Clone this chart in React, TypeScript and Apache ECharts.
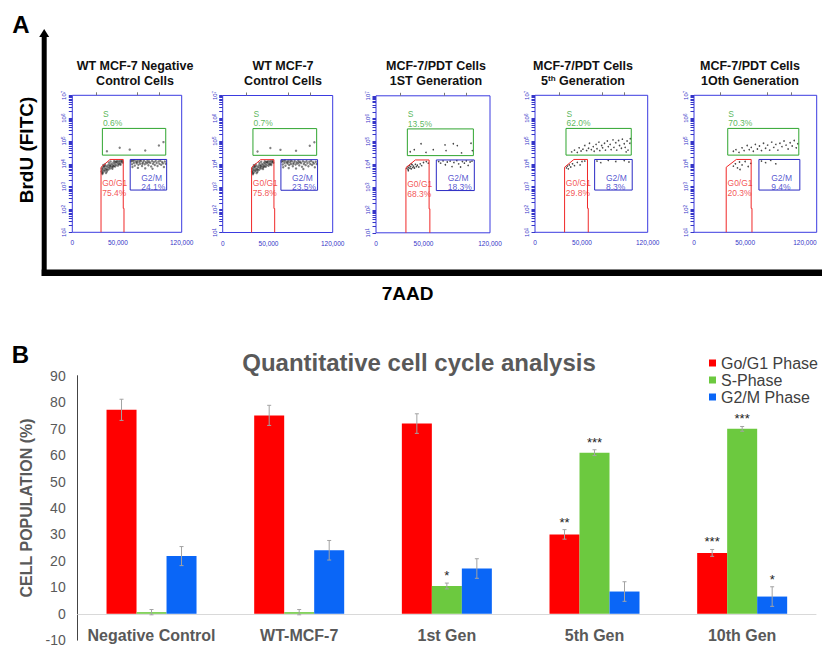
import React, { useEffect, useRef } from 'react';
import * as echarts from 'echarts';

const FONT = '"Liberation Sans", Arial, Helvetica, sans-serif';

// ---------------- Panel B data ----------------
const categories = ['Negative Control', 'WT-MCF-7', '1st Gen', '5th Gen', '10th Gen'];
const seriesNames = ['Go/G1 Phase', 'S-Phase', 'G2/M Phase'];
const g0g1Values = [77.1, 75.0, 71.9, 30.0, 23.0];
const g0g1Errors = [4.0, 3.8, 3.7, 1.8, 1.3];
const sValues = [0.6, 0.6, 10.5, 60.9, 69.9];
const sErrors = [1.0, 1.0, 1.1, 1.1, 0.9];
const g2mValues = [21.8, 24.0, 17.1, 8.4, 6.5];
const g2mErrors = [3.6, 3.7, 3.7, 3.7, 3.7];
const g0g1Stars = ['', '', '', '**', '***'];
const sStars = ['', '', '*', '***', '***'];
const g2mStars = ['', '', '', '', '*'];
const yTickMin = -10;
const yTickMax = 90;
const yTickStep = 10;

// ---------------- Panel A data ----------------
const flowTitles = [
  ['WT MCF-7 Negative', 'Control Cells'],
  ['WT MCF-7', 'Control Cells'],
  ['MCF-7/PDT Cells', '1ST Generation'],
  ['MCF-7/PDT Cells', '5th Generation'],
  ['MCF-7/PDT Cells', '1Oth Generation'],
];
const sPercents = ['0.6%', '0.7%', '13.5%', '62.0%', '70.3%'];
const g0g1Percents = ['75.4%', '75.8%', '68.3%', '29.8%', '20.3%'];
const g2mPercents = ['24.1%', '23.5%', '18.3%', '8.3%', '9.4%'];
const xTickValues = [0, 50, 120]; // thousands of 7AAD units
const topTickValues = [26, 71.5, 95];
const decadeLabels = [1, 2, 3, 4, 5, 6, 7]; // log10 of BrdU
const sGate = [[33, 4.38], [102.5, 4.38], [102.5, 5.55], [33, 5.55], [33, 4.38]];
const g0g1Gate = [[31.5, 1], [31.5, 3.85], [41.4, 4.19], [55.9, 4.19], [55.9, 2.05], [56.7, 2.05], [56.7, 1]];
const g2mGate = [[63.5, 2.85], [103.5, 2.85], [103.5, 4.19], [63.5, 4.19], [63.5, 2.85]];
const sLabelPos = [[33, 6.2], [33, 5.78]];
const g0g1LabelPos = [[32.3, 3.15], [32.3, 2.72]];
const g2mLabelPos = [[75, 3.4], [75, 3.0]];

const dotsNegCtrl = [
  [32, 3.66], [32.4, 3.78], [32.8, 3.7], [33.3, 3.84], [33.8, 3.62], [34.2, 3.75], [34.7, 3.88], [35.2, 3.68],
  [35.8, 3.8], [36.3, 3.72], [36.9, 3.9], [37.5, 3.78], [38, 3.66], [38.6, 3.86], [39.2, 3.94], [39.8, 3.75],
  [40.4, 3.84], [41, 3.97], [41.7, 3.8], [42.3, 3.9], [43, 4.0], [43.7, 3.85], [44.4, 3.95], [45.1, 4.05],
  [45.8, 3.9], [46.5, 4.0], [47.3, 4.08], [48, 3.95], [48.8, 4.05], [49.6, 4.12], [50.4, 4.0], [51.2, 4.08],
  [52, 4.14], [52.8, 4.02], [53.6, 4.1], [54.4, 4.15], [55.2, 4.05], [34, 3.95], [37, 3.6], [40, 4.05],
  [44, 3.78], [47, 3.88], [50, 3.92], [53, 3.96], [33, 3.55], [36, 3.98], [42, 4.1], [46, 4.12],
  [32.6, 3.6], [35, 3.9], [38.2, 3.74], [41.3, 3.9], [44.8, 3.88], [48.3, 4.1], [51.6, 3.98], [54.8, 4.1],
  [64.5, 4.1], [65.5, 3.98], [66.5, 4.12], [67.5, 4.04], [68.5, 3.92], [69.5, 4.1], [70.5, 4.02], [71.5, 4.14],
  [72.5, 3.96], [73.5, 4.08], [74.5, 4.0], [75.5, 4.12], [76.5, 3.9], [77.5, 4.06], [78.5, 4.13], [79.5, 3.98],
  [80.5, 4.08], [81.5, 4.02], [82.5, 4.14], [83.5, 3.94], [84.5, 4.1], [85.5, 4.04], [86.5, 3.88], [87.5, 4.12],
  [88.5, 4.0], [89.5, 4.08], [90.5, 3.95], [91.5, 4.12], [92.5, 4.03], [93.5, 3.9], [94.5, 4.1], [95.5, 4.0],
  [96.5, 4.13], [97.5, 3.96], [98.5, 4.08], [99.5, 4.02], [100.5, 3.86], [101.5, 4.1], [102.5, 4.0], [66, 3.86],
  [72, 3.82], [80, 3.8], [88, 3.78], [65, 4.15], [68, 4.16], [71, 4.07], [74, 4.15], [77, 4.0], [83, 4.06],
  [38, 4.55], [52, 4.7], [63, 4.62], [80, 4.58], [95, 4.8], [100, 4.95],
];
const dotsWT = dotsNegCtrl;
const dotsGen1 = [
  [32.5, 3.82], [33.2, 3.9], [33.8, 3.78], [34.5, 3.86], [35.2, 3.95], [35.8, 3.82], [36.5, 3.9], [37.2, 3.8],
  [38, 3.98], [38.8, 3.86], [39.5, 3.92], [40.5, 3.84], [41.5, 4.0], [42.5, 3.9], [43.5, 3.96], [45, 3.88],
  [46.5, 4.02], [48, 3.94], [50, 4.08], [53, 4.12], [55, 4.05], [34, 3.72], [37, 4.02],
  [66, 4.12], [68, 4.05], [70.5, 4.15], [73, 3.98], [75, 4.1], [78, 4.14], [80, 3.9], [82, 4.08], [85, 4.16],
  [87, 4.02], [89, 3.88], [91, 4.12], [93, 4.05], [95, 4.15], [97, 3.95], [99, 4.1], [101, 4.14],
  [40.3, 4.64], [47.4, 4.9], [52.6, 4.52], [60.3, 4.64], [72.6, 4.85], [73.7, 4.6], [81.4, 4.9], [85.6, 4.82],
  [100, 4.92], [101.4, 4.6], [36, 4.55], [90, 4.5],
];
const dotsGen5 = [
  [39, 4.52], [42, 4.6], [45, 4.5], [47, 4.7], [49, 4.56], [51, 4.64], [53, 4.8], [55, 4.58], [57, 4.68], [58, 4.9],
  [60, 4.62], [62, 4.75], [63, 4.55], [65, 4.85], [66, 4.66], [68, 4.95], [69, 4.58], [71, 4.8], [72, 4.7], [74, 4.9],
  [75, 4.6], [77, 5.0], [78, 4.75], [80, 4.85], [81, 4.62], [83, 5.05], [84, 4.72], [86, 4.92], [87, 4.6], [89, 5.02],
  [90, 4.8], [92, 4.68], [93, 5.08], [95, 4.88], [96, 4.72], [98, 5.0], [99, 4.6], [101, 4.9], [101.5, 5.1], [97, 4.52],
  [33.5, 3.82], [34.5, 3.9], [35.5, 3.78], [36.5, 3.95], [38, 3.86], [40, 4.0], [42, 3.92], [45, 4.06], [48, 3.95],
  [50, 4.1], [53, 4.12],
  [66, 4.12], [70, 4.05], [78, 4.15], [86, 4.1], [95, 4.14], [100, 4.08],
];
const dotsGen10 = [
  [38.5, 4.55], [41, 4.62], [44, 4.5], [47, 4.7], [49, 4.58], [52, 4.8], [54, 4.62], [56, 4.72], [58, 4.55], [60, 4.85],
  [62, 4.65], [64, 4.78], [66, 4.58], [68, 4.9], [70, 4.68], [72, 4.82], [74, 4.6], [76, 4.95], [78, 4.72], [80, 4.85],
  [82, 4.6], [84, 4.9], [86, 4.75], [88, 5.0], [90, 4.82], [92, 4.65], [94, 4.92], [96, 4.78], [98, 5.02], [100, 4.7],
  [101.5, 4.88],
  [38.5, 3.9], [40.5, 4.0], [42.5, 3.82], [44.5, 4.08], [47, 3.95], [50, 4.1], [53, 3.88], [55.5, 4.02], [45, 3.75],
  [66, 4.12], [70, 4.05], [75, 4.15], [80, 4.0],
];
const flowDots = [dotsNegCtrl, dotsWT, dotsGen1, dotsGen5, dotsGen10];

// ---------------- layout / style ----------------
const flowFrames = [
  { left: 72.3, top: 95.3, width: 109.4, height: 137, titleX: 135, dot: 2.4, alpha: 0.55 },
  { left: 222.7, top: 95.5, width: 110, height: 137, titleX: 283, dot: 2.4, alpha: 0.55 },
  { left: 376, top: 95.8, width: 114, height: 137, titleX: 436, dot: 1.6, alpha: 0.8 },
  { left: 535, top: 95.3, width: 112.7, height: 137, titleX: 583, dot: 1.6, alpha: 0.8 },
  { left: 694, top: 95.3, width: 122.7, height: 137, titleX: 750, dot: 1.6, alpha: 0.8 },
];
const FRAME_BLUE = '#3b3be0';
const AXIS_BLUE = '#3535c8';
const GATE_GREEN = '#2fa52f';
const GATE_RED = '#f02828';
const GATE_BLUE = '#2a2ac4';
const BAR_W = 30;
const ERR = '#a3a3a3';

const logTicks: number[] = [];
for (let n = 1; n < 7; n++) for (let k = 1; k < 10; k++) logTicks.push(n + Math.log10(k));
logTicks.push(7);

const fmtThousands = (v: number) => (v * 1000).toLocaleString('en-US');

function buildOption() {
  const grids: any[] = [];
  const xAxes: any[] = [];
  const yAxes: any[] = [];
  const series: any[] = [];
  const graphics: any[] = [];

  flowFrames.forEach((f, i) => {
    const last = i === flowFrames.length - 1;
    grids.push({
      left: f.left, top: f.top, width: f.width, height: f.height, outerBoundsMode: 'none', containLabel: false,
      show: true, borderColor: FRAME_BLUE, borderWidth: 1, backgroundColor: 'rgba(0,0,0,0)',
    });
    xAxes.push({
      type: 'value', gridIndex: i, min: 0, max: 120, position: 'bottom',
      axisLine: { show: false }, axisTick: { show: false }, splitLine: { show: false },
      axisLabel: {
        customValues: xTickValues, formatter: fmtThousands, fontSize: 6.5, color: AXIS_BLUE, margin: 7, fontFamily: FONT,
        alignMaxLabel: last ? 'right' : undefined,
      },
    });
    xAxes.push({
      type: 'value', gridIndex: i, min: 0, max: 120, position: 'top',
      axisLine: { show: false }, axisLabel: { show: false }, splitLine: { show: false },
      axisTick: { show: true, customValues: topTickValues, length: 3, lineStyle: { color: '#777', width: 1 } },
    });
    yAxes.push({
      type: 'value', gridIndex: i, min: 1, max: 7,
      axisLine: { show: false }, splitLine: { show: false },
      axisTick: { show: true, customValues: logTicks, length: 3.5, lineStyle: { color: AXIS_BLUE, width: 1 } },
      axisLabel: {
        customValues: decadeLabels, rotate: 90, margin: 5,
        formatter: (v: number) => `{a|10}{b|${v}}`,
        rich: {
          a: { fontSize: 6, color: AXIS_BLUE, fontFamily: FONT },
          b: { fontSize: 4.5, color: AXIS_BLUE, fontFamily: FONT, verticalAlign: 'top' },
        },
      },
    });
    const xi = 2 * i;
    series.push({
      type: 'scatter', xAxisIndex: xi, yAxisIndex: i, data: flowDots[i], symbolSize: f.dot,
      itemStyle: { color: '#1a1a1a', opacity: f.alpha }, silent: true, z: 2,
    });
    const gateLine = (data: number[][], color: string) => ({
      type: 'line', xAxisIndex: xi, yAxisIndex: i, data, symbol: 'none', silent: true, z: 3,
      lineStyle: { color, width: 1 },
    });
    series.push(gateLine(sGate, GATE_GREEN));
    series.push(gateLine(g0g1Gate, GATE_RED));
    series.push(gateLine(g2mGate, GATE_BLUE));
    const lab = (pos: number[], text: string, color: string) => ({
      value: pos, label: { formatter: text, color },
    });
    series.push({
      type: 'scatter', xAxisIndex: xi, yAxisIndex: i, symbolSize: 1, silent: true, z: 4,
      itemStyle: { color: 'rgba(0,0,0,0)' },
      label: { show: true, position: 'right', distance: 0, fontSize: 8.5, lineHeight: 8.5, fontFamily: FONT },
      data: [
        lab(sLabelPos[0], 'S', GATE_GREEN),
        lab(sLabelPos[1], sPercents[i], GATE_GREEN),
        lab(g0g1LabelPos[0], 'G0/G1', GATE_RED),
        lab(g0g1LabelPos[1], g0g1Percents[i], GATE_RED),
        lab(g2mLabelPos[0], 'G2/M', GATE_BLUE),
        lab(g2mLabelPos[1], g2mPercents[i], GATE_BLUE),
      ],
    });

    // plot titles
    const [l1, l2] = flowTitles[i];
    const tStyle = { fontSize: 12.5, fontWeight: 'bold', fill: '#111', fontFamily: FONT, align: 'center', verticalAlign: 'middle', textAlign: 'center', textVerticalAlign: 'middle' };
    graphics.push({ type: 'text', x: f.titleX, y: 66, style: { ...tStyle, text: l1 } });
    const m = l2.match(/^(\d+)(th)( .*)$/);
    if (m) {
      graphics.push({
        type: 'text', x: f.titleX, y: 81,
        style: {
          ...tStyle, text: `{n|${m[1]}}{s|${m[2]}}{n|${m[3]}}`,
          rich: {
            n: { fontSize: 12.5, fontWeight: 'bold', fill: '#111', fontFamily: FONT },
            s: { fontSize: 8, fontWeight: 'bold', fill: '#111', fontFamily: FONT, verticalAlign: 'top' },
          },
        },
      });
    } else {
      graphics.push({ type: 'text', x: f.titleX, y: 81, style: { ...tStyle, text: l2 } });
    }
  });

  // ---------- Panel B ----------
  const gi = 5;
  grids.push({ left: 77.7, top: 375.7, width: 738.3, height: 264.5, outerBoundsMode: 'none', containLabel: false });
  xAxes.push({
    type: 'category', gridIndex: gi, data: categories,
    axisLine: { onZero: true, lineStyle: { color: '#d9d9d9', width: 1 } },
    axisTick: { show: false },
    axisLabel: { interval: 0, fontSize: 16, fontWeight: 'bold', color: '#595959', margin: -13.2, fontFamily: FONT },
  });
  yAxes.push({
    type: 'value', gridIndex: gi, min: yTickMin, max: yTickMax, interval: yTickStep,
    axisLine: { show: true, lineStyle: { color: '#444', width: 1 } },
    axisTick: { show: false }, splitLine: { show: false },
    axisLabel: { fontSize: 14, color: '#595959', margin: 12, fontFamily: FONT },
    name: 'CELL POPULATION (%)', nameLocation: 'middle', nameGap: 41,
    nameTextStyle: { fontSize: 16, fontWeight: 'bold', color: '#595959', fontFamily: FONT },
  });
  const bx = 10;
  const colors = ['#ff0000', '#6cc93f', '#0a66f7'];
  const vals = [g0g1Values, sValues, g2mValues];
  const errs = [g0g1Errors, sErrors, g2mErrors];
  const stars = [g0g1Stars, sStars, g2mStars];
  vals.forEach((v, k) => {
    series.push({
      name: seriesNames[k], type: 'bar', xAxisIndex: bx, yAxisIndex: gi, data: v,
      barWidth: BAR_W, barGap: '0%', itemStyle: { color: colors[k] }, z: 2,
    });
  });
  vals.forEach((v, k) => {
    const off = k - 1;
    series.push({
      name: 'err' + k, type: 'custom', xAxisIndex: bx, yAxisIndex: gi, z: 10, silent: true,
      data: v.map((val, i) => [i, val, errs[k][i]]),
      encode: { x: 0, y: 1 },
      renderItem: (params: any, api: any) => {
        const idx = api.value(0);
        const val = api.value(1);
        const e = api.value(2);
        const c = api.coord([idx, val]);
        const x = c[0] + off * BAR_W;
        const yT = api.coord([idx, val + e])[1];
        const yB = api.coord([idx, val - e])[1];
        const cap = 2;
        const ls = { stroke: ERR, lineWidth: 1 };
        const children: any[] = [
          { type: 'line', shape: { x1: x, y1: yT, x2: x, y2: yB }, style: ls },
          { type: 'line', shape: { x1: x - cap, y1: yT, x2: x + cap, y2: yT }, style: ls },
          { type: 'line', shape: { x1: x - cap, y1: yB, x2: x + cap, y2: yB }, style: ls },
        ];
        const st = stars[k][idx];
        if (st) {
          children.push({
            type: 'text',
            style: { text: st, x, y: yT - 1, align: 'center', verticalAlign: 'bottom', textAlign: 'center', textVerticalAlign: 'bottom', fontSize: 13, fill: '#222', fontFamily: FONT },
          });
        }
        return { type: 'group', children };
      },
    });
  });

  // ---------- static decorations ----------
  const bold = (size: number) => ({ fontSize: size, fontWeight: 'bold', fontFamily: FONT, align: 'center', verticalAlign: 'middle', textAlign: 'center', textVerticalAlign: 'middle' });
  graphics.push(
    { type: 'rect', shape: { x: 41.7, y: 34, width: 5, height: 242 }, style: { fill: '#000' } },
    { type: 'polygon', shape: { points: [[39.2, 37], [44.2, 29], [49.2, 37]] }, style: { fill: '#000' } },
    { type: 'rect', shape: { x: 41.7, y: 269.5, width: 780.3, height: 6.5 }, style: { fill: '#000' } },
    { type: 'text', x: 21, y: 24, style: { ...bold(24), text: 'A', fill: '#000' } },
    { type: 'text', x: 20.5, y: 354, style: { ...bold(24), text: 'B', fill: '#000' } },
    { type: 'text', x: 26.7, y: 150, rotation: Math.PI / 2, style: { ...bold(19), text: 'BrdU (FITC)', fill: '#000' } },
    { type: 'text', x: 407.5, y: 293, style: { ...bold(19), text: '7AAD', fill: '#000' } },
    { type: 'text', x: 419, y: 362, style: { ...bold(24), text: 'Quantitative cell cycle analysis', fill: '#595959' } },
  );

  return {
    animation: false,
    backgroundColor: '#ffffff',
    textStyle: { fontFamily: FONT },
    grid: grids,
    xAxis: xAxes,
    yAxis: yAxes,
    legend: {
      data: seriesNames, orient: 'vertical', left: 709, top: 355, padding: 0,
      itemWidth: 7, itemHeight: 7, itemGap: 1, icon: 'rect',
      textStyle: { fontSize: 16, color: '#404040', lineHeight: 16, fontFamily: FONT },
      selectedMode: false,
    },
    series,
    graphic: { elements: graphics },
  };
}

export default function App() {
  const ref = useRef<HTMLDivElement>(null);
  useEffect(() => {
    if (!ref.current) return;
    const chart = echarts.init(ref.current, undefined, { renderer: 'svg' });
    chart.setOption(buildOption() as any);
    return () => chart.dispose();
  }, []);
  return (
    <div
      ref={ref}
      style={{ position: 'absolute', left: 0, top: 0, width: 822, height: 648, background: '#fff' }}
    />
  );
}
